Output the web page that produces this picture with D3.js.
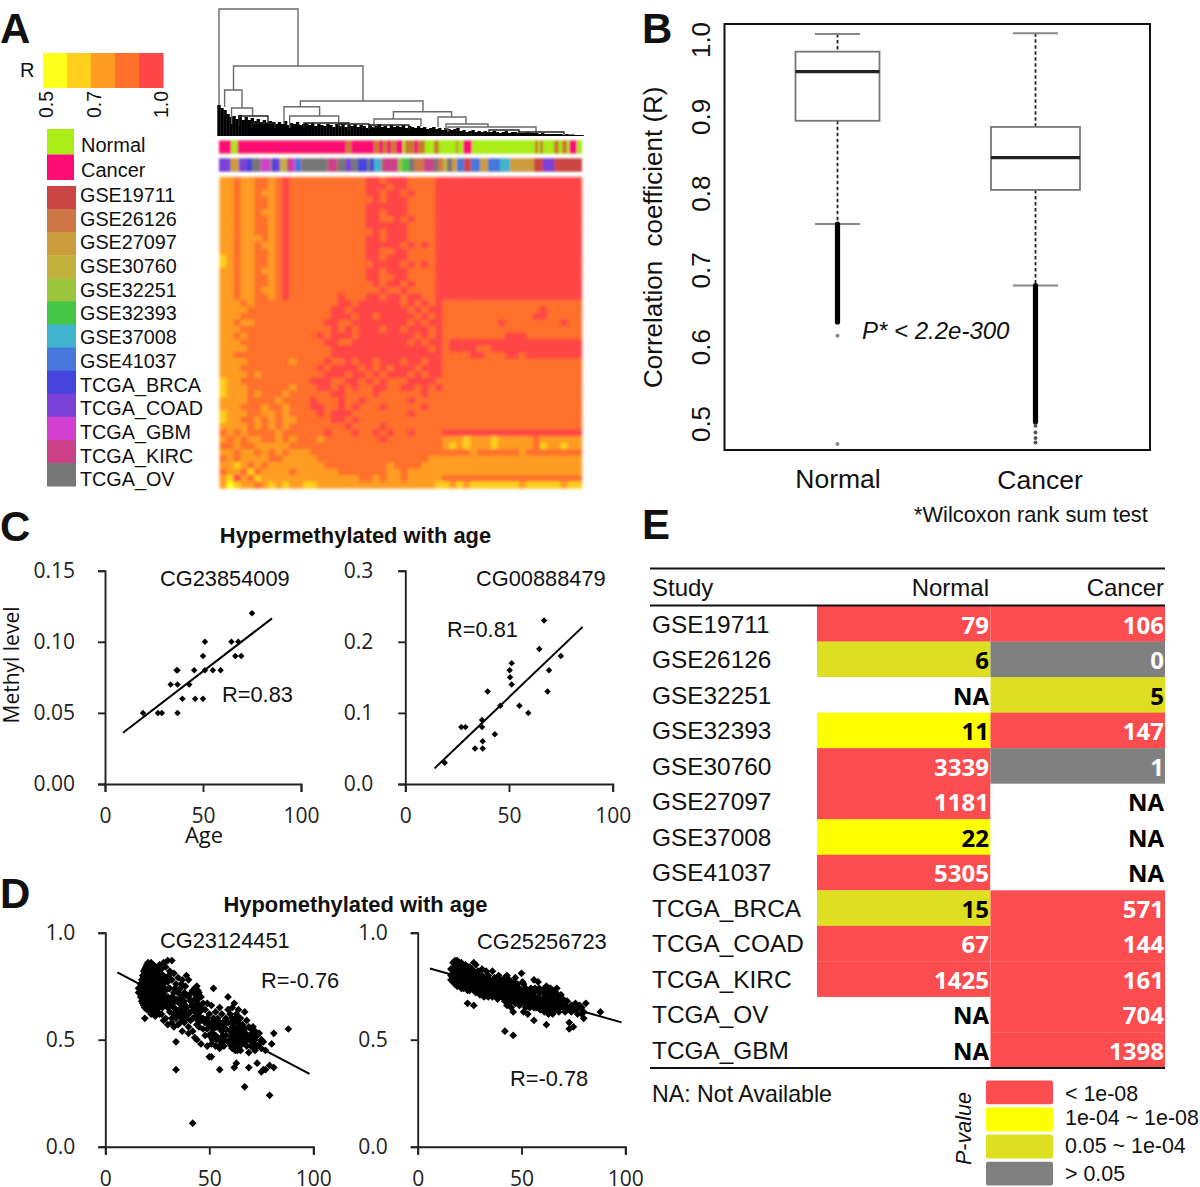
<!DOCTYPE html>
<html><head><meta charset="utf-8">
<style>html,body{margin:0;padding:0;background:#fff}svg{display:block}text{fill:#111}</style>
<script src="https://cdn.jsdelivr.net/npm/d3@7"></script>
</head><body><div id="chart"></div>
<script>
// ---------- Panel A data ----------
const rLevels = [0.5, 0.6, 0.7, 0.8, 1.0];
const rColors = ["#ffff1e", "#ffcf1c", "#ff9c20", "#ff702c", "#ff4444"];
const rLabels = ["0.5", "0.7", "1.0"];
const tissueNames = ["Normal", "Cancer"];
const tissueColors = ["#a9ec12", "#fb0a74"];
const studyNames = ["GSE19711","GSE26126","GSE27097","GSE30760","GSE32251","GSE32393","GSE37008","GSE41037","TCGA_BRCA","TCGA_COAD","TCGA_GBM","TCGA_KIRC","TCGA_OV"];
const studyColors = ["#cc4444","#cc7744","#cc9d3e","#c2b23e","#9cc43c","#44c644","#3fb4cc","#4477dd","#4444dd","#7a3fd8","#d23fcf","#cc3f88","#777777"];
const mixColor = "#c97a2a";
// [tissue code, leaf start, leaf end]; M = mixed samples
const tissueTrack = [["C",0,12.5],["N",12.5,18.5],["C",18.5,127.5],["M",127.5,132],["C",132,155],["M",155,160],["C",160,164],["M",164,168],["C",168,172],["M",172,177],["C",177,184],["M",186,195],["C",195,199],["M",199,206],["N",206,215],["M",215,220],["N",220,237],["M",237,239],["N",239,244],["C",244,253],["N",253,316],["M",316,319],["N",319,321],["M",321,324],["N",324,335],["M",335,340],["N",340,343],["M",343,348],["N",348,350],["C",350,358],["N",358,363]];
const studyTrack = [["TCGA_COAD",0,11],["GSE27097",12,20],["TCGA_COAD",20,28],["TCGA_BRCA",28,33],["TCGA_OV",33,41],["TCGA_GBM",42,51],["TCGA_BRCA",53,57],["TCGA_COAD",57,61],["GSE30760",61,68],["TCGA_KIRC",68,73],["TCGA_GBM",73,76],["GSE41037",76,82],["TCGA_OV",83,108],["TCGA_KIRC",109,118],["TCGA_OV",119,127],["TCGA_COAD",127,132],["TCGA_OV",132,139],["TCGA_BRCA",139,148],["TCGA_OV",148,151],["TCGA_BRCA",151,155],["GSE37008",155,162],["TCGA_KIRC",164,179],["GSE32251",179,183],["GSE32393",183,190],["TCGA_OV",190,195],["GSE26126",195,205],["TCGA_KIRC",205,215],["TCGA_OV",215,219],["GSE26126",219,224],["GSE30760",224,228],["TCGA_OV",228,233],["GSE27097",233,238],["GSE41037",238,245],["GSE19711",245,252],["GSE41037",252,261],["GSE27097",261,269],["GSE41037",269,281],["GSE37008",281,291],["GSE27097",291,315],["GSE19711",315,324],["TCGA_COAD",324,335],["GSE19711",335,344],["GSE19711",344,363]];
// [left leaf, right leaf, height, left child height, right child height]
const dendroMerges = [[0,79,127,31,70],[14.5,144,70,46,35],[5.6,23,46,29,28],[81.4,204,35,29.3,24.3],[65,100.6,29.3,12,20],[70.7,119.7,20,8,10],[174.4,232.6,24.3,17,19],[155,202,17,8,10],[219,247,19,9,12],[227,269,12,6,9],[229,317,9,4,4],[12.5,33.6,28,12,20],[20,49,20,10,12],[33,56,13,8,8],[120,150,12,7,7],[85,130,13,8,6],[150,190,11,6,7],[270,300,6,3,3],[300,345,4,2,2]];
const dendroLeaves = [31,28,26,22,19,20,17,21,16,19, 16,18,15,17,14,16,13,15,14,12, 14,12,15,11,13,12,14,11,12,13, 11,13,10,12,11,10,12,11,9,12, 10,12,9,11,10,12,9,11,10,8, 11,9,10,12,9,10,8,11,9,10, 9,11,8,10,9,8,10,8,9,7, 8,9,7,8,6,8,7,6,7,8, 5,6,4,5,6,4,5,4,5,4, 4,5,4,3,4,5,3,4,4,3, 3,3,4,3,3,3,2,3,2,2, 2,2,2,2,1.5,2,1.5,1.5,1,1,1];
// Heat map, colour level per cell (index into rColors)
const heatRows = [
"22322 3323433 333333333 44344 433334 44444444444444444444",
"22322 3323433 333333333 44434 433334 44444444444444444444",
"22322 3223433 333333333 44344 343334 44444444444444444444",
"22322 3323433 333333333 34344 433334 44444444444444444444",
"22322 3323433 333333333 44444 433334 44444444444444444444",
"22322 3223433 333333333 44344 433334 44444444444444444444",
"22322 3323433 333333333 44334 343334 44444444444444444444",
"22322 3323433 333333333 44444 433334 44444444444444444444",
"22322 3323433 333333333 34344 433334 44444444444444444444",
"22322 2323433 333333333 44344 433334 44444444444444444444",
"22322 3223433 333333333 44444 343434 44444444444444444444",
"22322 3323433 333333333 44334 433334 44444444444444444444",
"12322 3323433 333333333 44344 433334 44444444444444444444",
"12322 3323433 333333333 34444 343434 44444444444444444444",
"22322 3223433 333333333 44344 433334 44444444444444444444",
"22322 3323433 333333333 44334 433334 44444444444444444444",
"22322 3323433 333333333 34344 343334 44444444444444444444",
"22322 3223433 333333333 33433 433334 44444444444444444444",
"22322 3323433 333334333 44344 344334 44444444444444444444",
"22232 3333333 333334434 44444 343434 33333333333333333333",
"22223 3333333 333344344 44444 434344 33333333333333433333",
"22233 3333333 333344434 43444 443434 33333333333334433333",
"22322 3333333 333443344 44444 434344 33333333433333333433",
"22233 3333333 333343434 44344 344434 33333333333333333333",
"22323 3333333 334344434 44444 443434 33333333344433333333",
"22233 3333333 333443344 44444 434344 34444444444444444444",
"22223 3333333 333344444 44444 444434 34444334444444444444",
"22333 3333333 333344444 44444 444444 33334433344344444444",
"22223 3333323 333433434 43444 344344 33333333333333333333",
"22233 3333333 334344443 43434 443444 33333333333333333333",
"22223 2333333 333444344 34344 434344 33333333333333333333",
"12233 3333333 344433443 43433 344443 33333333333333333333",
"12223 3333323 334434343 34433 443434 33333333333333333333",
"12223 2333233 333344333 34333 333433 33333333333333333333",
"22223 3332333 343334334 33333 343333 33333333333333333333",
"22233 3233233 344334343 33433 333433 33333333333333333333",
"12223 3223233 334344433 33333 343333 33333333333333333333",
"12233 2323223 333344343 33333 333333 33333333333333333333",
"22223 2323233 333333433 33433 333333 33333333333333333333",
"32323 3332333 333433343 34343 343333 44444444444444444444",
"23232 2332323 332333333 33433 333333 22212221222223222222",
"33233 2222233 333333333 33333 333333 21212221222223122122",
"22322 3232322 233333333 33333 333333 33332333333233333333",
"32322 2233222 223333333 33333 333322 22222222222222222222",
"22123 2322222 222333333 33323 333222 22222222222222222222",
"32231 3222232 222223333 33322 322222 22222222222222222222",
"21423 1222222 222222223 32322 322222 33333333333333333333",
"20122 3212122 112222222 22222 222221 12121111111211111211"
];
// ---------- Panel B data ----------
const boxCats = ["Normal", "Cancer"];
const boxQ3 = [0.977, 0.879];
const boxMedian = [0.951, 0.839];
const boxQ1 = [0.887, 0.797];
const whiskerHigh = [1.0, 1.001];
const whiskerLow = [0.7526, 0.6725];
const outlierRuns = [[0.7526, 0.625], [0.6725, 0.495]];
const outlierDots = [[0.607, 0.466], [0.490, 0.481, 0.474, 0.468]];
const boxTicks = [0.5, 0.6, 0.7, 0.8, 0.9, 1.0];
// ---------- Panels C, D data ----------
const c1Points = [[19.4,.05],[27,.05],[29,.05],[37,.05],[33.5,.07],[37,.07],[37,.08],[36.5,.08],[43,.07],[39.5,.06],[46,.06],[50,.06],[45.5,.08],[51,.08],[55,.08],[59,.08],[50,.09],[51,.10],[64.5,.10],[68,.10],[66.5,.09],[69.5,.09],[75,.12]];
const c1Line = [[9.2,.036],[85.2,.1165]];
const c2Points = [[19,.03],[33.6,.05],[37.3,.05],[37.3,.06],[43.2,.07],[27,.08],[29,.08],[37,.08],[37,.09],[39.7,.13],[45.8,.11],[51.3,.14],[50.5,.15],[50.3,.16],[51.3,.17],[55,.11],[59.3,.10],[64.6,.19],[66.9,.23],[68.6,.13],[69.3,.16],[75,.18]];
const c2Line = [[14.1,.022],[85.5,.221]];
// age, methyl levels at that age
const d1Columns = [[16,[.74,.72]],[17,[.76,.73,.70]],[17.5,[.78,.74,.71,.68]],[18,[.80,.78,.75,.72,.69,.67]],[18.5,[.82,.79,.76,.73,.70,.66]],[19,[.83,.80,.77,.74,.71,.68,.65,.60]],[19.5,[.84,.81,.78,.75,.72,.69,.66]],[20,[.85,.82,.79,.76,.73,.70,.67,.64]],[20.5,[.86,.83,.80,.77,.74,.71,.68,.65]],[21,[.83,.80,.77,.74,.71,.68,.65]],[21.5,[.84,.81,.78,.75,.72,.69,.66,.63]],[22,[.86,.83,.80,.76,.72,.69,.66,.62]],[22.5,[.82,.79,.75,.73,.70,.67]],[23,[.85,.81,.78,.74,.71,.68,.64]],[23.5,[.83,.80,.76,.73,.69,.66]],[24,[.84,.80,.77,.73,.70,.65,.61]],[24.5,[.82,.79,.75,.72,.68,.63]],[25,[.82,.78,.75,.72,.68,.64]],[25.5,[.80,.77,.74,.70,.66]],[26,[.85,.79,.74,.70,.66,.62]],[26.5,[.81,.76,.72,.68]],[27,[.83,.78,.75,.71,.67,.62]],[27.5,[.80,.73,.69,.65]],[28,[.86,.80,.76,.72,.69,.59]],[28.5,[.77,.74,.70]],[29,[.84,.79,.73,.67,.60]],[30,[.87,.77,.70,.65,.57]],[30.5,[.80,.74,.68]],[31,[.82,.74,.68,.63]],[32,[.87,.78,.70,.66,.60,.58]],[33,[.81,.72,.65,.62,.56]],[33.5,[.74,.68]],[34,[.76,.69,.64,.60,.49,.36]],[35,[.79,.72,.68,.62,.57]],[36,[.74,.67,.63,.58]],[36.5,[.76,.70,.65,.61]],[37,[.78,.70,.66,.60,.54]],[38,[.72,.68,.63,.58]],[38.5,[.75,.66,.61]],[39,[.80,.71,.65,.60]],[40,[.78,.70,.62,.56,.53]],[41,[.68,.63,.59]],[41.5,[.72,.66]],[42,[.73,.66,.60,.54,.11]],[43,[.74,.69,.64,.51]],[43.5,[.71,.66,.61]],[44,[.75,.68,.62,.57,.50]],[44.5,[.73,.65,.59]],[45,[.72,.66,.61,.56]],[45.5,[.70,.63,.59]],[46,[.70,.65,.59,.48]],[47,[.67,.60,.55]],[48,[.64,.58,.52]],[49,[.67,.60,.55,.47]],[50,[.62,.57,.52,.42]],[51,[.66,.58,.53,.48,.42]],[51.5,[.56,.50]],[52,[.74,.60,.55,.50]],[52.5,[.58,.52]],[53,[.63,.52,.47]],[53.5,[.56,.50]],[54,[.60,.56,.51]],[55,[.65,.58,.50,.46,.36]],[55.5,[.55,.48]],[56,[.62,.54]],[56.5,[.58,.52,.49]],[57,[.57,.50,.47]],[58,[.60,.55,.52]],[59,[.70,.64,.58,.49]],[60,[.62,.54,.50]],[60.5,[.58,.52,.47]],[61,[.65,.60,.56,.51,.46]],[61.5,[.54,.49]],[62,[.67,.58,.53,.48,.37]],[62.5,[.60,.55,.50,.45]],[63,[.62,.55,.50,.39]],[63.5,[.58,.53,.48,.45]],[64,[.64,.56,.52,.46]],[64.5,[.60,.50,.47]],[65,[.60,.54,.50,.45]],[65.5,[.56,.52,.48]],[66,[.57,.52,.48]],[67,[.63,.55,.50,.28]],[67.5,[.53,.49]],[68,[.59,.52,.47]],[69,[.56,.50,.44,.37]],[70,[.55,.51,.47]],[70.5,[.53,.49]],[71,[.56,.52,.48]],[71.5,[.50,.46]],[72,[.54,.50,.45]],[72.5,[.52,.47]],[73,[.52,.47,.39]],[74,[.53,.48]],[75,[.50,.46,.35]],[76,[.49,.36]],[77,[.45,.36]],[79,[.24,.38]],[80,[.48]],[81,[.53,.37]],[88,[.55]]];
const d1Line = [[5.8,.815],[98.2,.34]];
const d2Columns = [[16,[.83,.80,.78]],[17,[.86,.83,.80,.77]],[17.5,[.84,.81,.78]],[18,[.87,.85,.82,.79,.76]],[18.5,[.83,.80,.77]],[19,[.87,.84,.81,.78,.75]],[19.5,[.85,.82,.79,.76]],[20,[.86,.85,.82,.79,.76]],[20.5,[.83,.80,.77,.75]],[21,[.86,.83,.80,.77,.74]],[21.5,[.84,.81,.78,.75]],[22,[.85,.82,.79,.76,.74]],[22.5,[.83,.80,.77,.75]],[23,[.85,.84,.81,.78,.75]],[23.5,[.82,.79,.76,.74]],[24,[.84,.81,.78,.75,.73,.67]],[24.5,[.83,.80,.77,.74]],[25,[.84,.82,.79,.76,.73]],[25.5,[.80,.77,.75]],[26,[.83,.80,.77,.74]],[26.5,[.81,.78,.75]],[27,[.86,.82,.79,.76,.73,.66]],[27.5,[.80,.77,.74]],[28,[.85,.81,.78,.75,.72]],[28.5,[.79,.76,.73]],[29,[.82,.79,.76,.73]],[30,[.80,.77,.74,.71]],[30.5,[.78,.75,.72]],[31,[.83,.80,.76,.72]],[32,[.79,.76,.73,.70]],[32.5,[.77,.74,.71]],[33,[.82,.78,.75,.72]],[34,[.80,.77,.73,.70]],[34.5,[.78,.75,.72]],[35,[.78,.75,.72]],[36,[.82,.76,.73,.70]],[36.5,[.78,.74,.71]],[37,[.79,.75,.71]],[38,[.77,.73,.70]],[38.5,[.75,.72,.69]],[39,[.80,.75,.71]],[40,[.78,.74,.71]],[40.5,[.76,.73,.70]],[41,[.76,.73,.70]],[42,[.79,.75,.71,.68,.54]],[42.5,[.77,.73,.69]],[43,[.80,.76,.72,.66]],[44,[.78,.74,.71,.67]],[44.5,[.76,.72,.69]],[45,[.77,.73,.70,.65]],[46,[.75,.72,.68,.52,.63]],[46.5,[.77,.73,.70]],[47,[.79,.74,.70,.67]],[48,[.76,.72,.68]],[48.5,[.74,.70]],[49,[.74,.70,.66]],[50,[.81,.73,.69]],[50.5,[.77,.71,.68]],[51,[.76,.71,.67,.63]],[52,[.74,.69,.65]],[52.5,[.72,.67]],[53,[.72,.68,.62]],[54,[.72,.68,.65]],[54.5,[.74,.70,.66]],[55,[.70,.66]],[56,[.78,.72,.68,.65,.59]],[56.5,[.74,.70,.67]],[57,[.73,.69,.65]],[58,[.77,.70,.66]],[58.5,[.74,.69,.66]],[59,[.72,.68,.64]],[60,[.73,.69,.65]],[60.5,[.72,.68,.66]],[61,[.74,.70,.66,.63]],[61.5,[.72,.68,.65]],[62,[.75,.71,.67,.63,.57]],[62.5,[.73,.69,.65]],[63,[.72,.68,.65,.62]],[63.5,[.74,.70,.66,.64]],[64,[.74,.70,.66]],[64.5,[.72,.68,.65]],[65,[.73,.69,.65,.62]],[65.5,[.71,.67,.64]],[66,[.71,.67,.64]],[66.5,[.72,.66]],[67,[.74,.68,.65]],[68,[.70,.66,.63]],[68.5,[.69,.65]],[69,[.71,.67]],[70,[.69,.65]],[71,[.66,.63]],[72,[.68,.64]],[73,[.65,.58,.55]],[74,[.66,.63]],[75,[.64,.56]],[76,[.67,.64]],[77,[.65,.62]],[78,[.66]],[79,[.65,.62]],[80,[.63,.60]],[81,[.67]],[88,[.63]]];
const d2Line = [[5.9,.833],[98.2,.581]];
// ---------- Panel E data ----------
const tableStudies = ["GSE19711","GSE26126","GSE32251","GSE32393","GSE30760","GSE27097","GSE37008","GSE41037","TCGA_BRCA","TCGA_COAD","TCGA_KIRC","TCGA_OV","TCGA_GBM"];
const normalCounts = ["79","6","NA","11","3339","1181","22","5305","15","67","1425","NA","NA"];
const cancerCounts = ["106","0","5","147","1","NA","NA","NA","571","144","161","704","1398"];
const normalClass = ["r","o","n","y","r","r","y","r","o","r","r","n","n"];
const cancerClass = ["r","g","o","r","g","n","n","n","r","r","r","r","r"];
const classColors = {r:"#fb4d50", y:"#ffff00", o:"#dfdf22", g:"#808080", n:"#ffffff"};
const classInk = {r:"#fff", y:"#000", o:"#000", g:"#fff", n:"#000"};
const pKeys = ["r","y","o","g"];
const pLabels = ["< 1e-08","1e-04 ~ 1e-08","0.05 ~ 1e-04","> 0.05"];

// ---------- drawing ----------
const HELV = "'Liberation Sans', Arial, sans-serif";
const OPEN = "'Open Sans', sans-serif";
const svg = d3.select("#chart").append("svg").attr("width",1200).attr("height",1187);
const defs = svg.append("defs");
defs.append("filter").attr("id","soft").attr("x","-2%").attr("y","-2%").attr("width","104%").attr("height","104%")
  .append("feGaussianBlur").attr("stdDeviation",0.9);
defs.append("filter").attr("id","softHeat").attr("x","-2%").attr("y","-2%").attr("width","104%").attr("height","104%")
  .append("feGaussianBlur").attr("stdDeviation",1.4);
defs.append("filter").attr("id","soft2").append("feGaussianBlur").attr("stdDeviation",0.45);

function txt(x,y,s,o={}){
  const t = svg.append("text").attr("x",x).attr("y",y).text(s)
    .attr("font-family",o.family||HELV).attr("font-size",o.size||20)
    .attr("text-anchor",o.anchor||"start").attr("font-weight",o.weight||"normal")
    .attr("font-style",o.style||"normal").attr("xml:space","preserve").style("white-space","pre");
  if(o.rotate!==undefined) t.attr("transform",`rotate(${o.rotate} ${x} ${y})`);
  if(o.fill) t.style("fill",o.fill);
  return t;
}
// panel letters
[["A",0,43],["B",642,43],["C",0,541],["D",0,908],["E",642,539]].forEach(d=>txt(d[1],d[2],d[0],{size:42,weight:"bold"}));

// --- Panel A: colour key
const keyX = d3.scaleBand().domain(rLevels).range([43,163]);
svg.append("g").selectAll("rect").data(rLevels).join("rect")
  .attr("x",d=>keyX(d)).attr("y",53).attr("width",keyX.bandwidth()+.5).attr("height",35)
  .attr("fill",(d,i)=>rColors[i]).attr("filter","url(#soft2)");
txt(20,77,"R",{size:20});
rLabels.forEach((s,k)=>txt([53,101,168][k],118,s,{size:19.5,rotate:-90}));
const tissueY = d3.scaleBand().domain(tissueNames).range([129,180]);
svg.append("g").selectAll("rect").data(tissueNames).join("rect")
  .attr("x",47).attr("width",27).attr("y",d=>tissueY(d)).attr("height",tissueY.bandwidth())
  .attr("fill",(d,i)=>tissueColors[i]).attr("filter","url(#soft2)");
tissueNames.forEach(d=>txt(81,tissueY(d)+22.5,d,{size:20}));
const studyY = d3.scaleBand().domain(studyNames).range([186,486]);
svg.append("g").selectAll("rect").data(studyNames).join("rect")
  .attr("x",47).attr("width",29).attr("y",d=>studyY(d)).attr("height",studyY.bandwidth()+.5)
  .attr("fill",(d,i)=>studyColors[i]).attr("filter","url(#soft2)");
const studyLabelY = d3.scaleBand().domain(studyNames).range([183.5,491.5]);
studyNames.forEach(d=>txt(80,studyLabelY(d)+18.5,d,{size:19.8}));

// dendrogram
const leafX = d3.scaleLinear().domain([0,363]).range([219,582]);
const dendroY = d3.scaleLinear().domain([0,127]).range([136,9]);
const leafIdx = d3.scaleLinear().domain([0,dendroLeaves.length-1]).range([0,363]);
svg.append("g").selectAll("line").data(dendroLeaves).join("line")
  .attr("x1",(d,i)=>leafX(leafIdx(i))).attr("x2",(d,i)=>leafX(leafIdx(i)))
  .attr("y1",dendroY(0)).attr("y2",d=>dendroY(d)).attr("stroke","#000").attr("stroke-width",3.4);
svg.append("g").selectAll("path").data(dendroMerges).join("path")
  .attr("d",d=>`M${leafX(d[0])},${dendroY(d[3])}V${dendroY(d[2])}H${leafX(d[1])}V${dendroY(d[4])}`)
  .attr("fill","none").attr("stroke",(d,i)=>i<12?"#6a6a6a":"#222").attr("stroke-width",1.4);

// tracks
const trackG = svg.append("g").attr("filter","url(#soft)");
const tissueFill = {C:tissueColors[1],N:tissueColors[0],M:mixColor};
trackG.append("rect").attr("x",leafX(0)).attr("width",363).attr("y",140.5).attr("height",13).attr("fill",tissueColors[0]);
trackG.selectAll("rect.t").data(tissueTrack).join("rect").attr("class","t")
  .attr("x",d=>leafX(d[1])).attr("width",d=>leafX(d[2])-leafX(d[1])).attr("y",140.5).attr("height",13)
  .attr("fill",d=>tissueFill[d[0]]);
const studyColor = d3.scaleOrdinal(studyNames,studyColors);
trackG.append("rect").attr("x",leafX(0)).attr("width",363).attr("y",158.5).attr("height",13).attr("fill","#a07a70");
trackG.selectAll("rect.s").data(studyTrack).join("rect").attr("class","s")
  .attr("x",d=>leafX(d[1])).attr("width",d=>leafX(d[2])-leafX(d[1])).attr("y",158.5).attr("height",13)
  .attr("fill",d=>studyColor(d[0]));

// heat map
const cells = heatRows.map(r=>r.replace(/ /g,"").split("").map(Number));
const hx = d3.scaleBand().domain(d3.range(cells[0].length)).range([219.5,581.5]);
const hy = d3.scaleBand().domain(d3.range(cells.length)).range([177,488]);
const heatG = svg.append("g").attr("filter","url(#softHeat)");
cells.forEach((row,r)=>{
  heatG.append("g").selectAll("rect").data(row).join("rect")
    .attr("x",(d,c)=>hx(c)).attr("y",hy(r)).attr("width",hx.bandwidth()+.6).attr("height",hy.bandwidth()+.6)
    .attr("fill",d=>rColors[d]);
});

// --- Panel B: box plot
const by = d3.scaleLinear().domain([0.5,1.0]).range([418,34]);
const bCenter = d3.scaleOrdinal(boxCats,[837.5,1035.5]);
const bHalf = d3.scaleOrdinal(boxCats,[42,44.5]);
const capHalf = 22.5;
const bG = svg.append("g");
boxCats.forEach((c,i)=>{
  const x=bCenter(c), h=bHalf(c);
  bG.append("line").attr("x1",x).attr("x2",x).attr("y1",by(whiskerHigh[i])).attr("y2",by(boxQ3[i])).attr("stroke","#222").attr("stroke-width",1.8).attr("stroke-dasharray","3.5 2.5");
  bG.append("line").attr("x1",x).attr("x2",x).attr("y1",by(boxQ1[i])).attr("y2",by(whiskerLow[i])).attr("stroke","#222").attr("stroke-width",1.8).attr("stroke-dasharray","3.5 2.5");
  [whiskerHigh[i],whiskerLow[i]].forEach(v=>bG.append("line").attr("x1",x-capHalf).attr("x2",x+capHalf).attr("y1",by(v)).attr("y2",by(v)).attr("stroke","#888").attr("stroke-width",1.8));
  bG.append("rect").attr("x",x-h).attr("width",2*h).attr("y",by(boxQ3[i])).attr("height",by(boxQ1[i])-by(boxQ3[i])).attr("fill","#fff").attr("stroke","#777").attr("stroke-width",1.8);
  bG.append("line").attr("x1",x-h).attr("x2",x+h).attr("y1",by(boxMedian[i])).attr("y2",by(boxMedian[i])).attr("stroke","#222").attr("stroke-width",3.4);
  bG.append("line").attr("x1",x).attr("x2",x).attr("y1",by(outlierRuns[i][0])).attr("y2",by(outlierRuns[i][1])).attr("stroke","#000").attr("stroke-width",5.2).attr("stroke-linecap","round");
  bG.selectAll(null).data(outlierDots[i]).join("circle").attr("cx",x).attr("cy",d=>by(d)).attr("r",2).attr("fill",i?"#555":"#888");
});
svg.append("rect").attr("x",724.5).attr("y",24).attr("width",425.5).attr("height",426).attr("fill","none").attr("stroke","#111").attr("stroke-width",2);
boxTicks.forEach(v=>txt(710,by(v)+6,d3.format(".1f")(v),{size:26,anchor:"middle",rotate:-90}));
txt(662,388,"Correlation  coefficient (R)",{size:26,rotate:-90});
txt(838,488,"Normal",{size:26.5,anchor:"middle"});
txt(1040,489,"Cancer",{size:26.5,anchor:"middle"});
txt(862,339,"P* < 2.2e-300",{size:24,style:"italic"});
txt(914,522,"*Wilcoxon rank sum test",{size:21.8});

// --- Panels C, D: scatter
function scatter(o){
  const x=d3.scaleLinear().domain([0,100]).range(o.xr), y=d3.scaleLinear().domain([0,o.ymax]).range(o.yr);
  const g=svg.append("g");
  const ax=g.append("g").attr("transform",`translate(0,${o.yr[0]})`)
    .call(d3.axisBottom(x).tickValues([0,50,100]).tickFormat(d3.format("d")).tickSize(8).tickPadding(o.xpad||16).tickSizeOuter(8));
  const ay=g.append("g").attr("transform",`translate(${o.xr[0]},0)`)
    .call(d3.axisLeft(y).tickValues(o.yt).tickFormat(d3.format(o.fmt)).tickSize(7).tickPadding(o.ypad).tickSizeOuter(7));
  [ax,ay].forEach(a=>{a.selectAll("path,line").attr("stroke","#222").attr("stroke-width",1.9);
    a.selectAll("text").attr("font-family",OPEN).attr("font-size",21).style("fill","#222");});
  g.append("path").attr("d",d3.line().x(d=>x(d[0])).y(d=>y(d[1]))(o.line)).attr("stroke","#000").attr("stroke-width",2).attr("fill","none");
  g.append("g").selectAll("path").data(o.pts).join("path")
    .attr("d",d3.symbol(d3.symbolSquare,o.ms)).attr("fill","#000")
    .attr("transform",d=>`translate(${x(d[0])},${y(d[1])}) rotate(45)`);
}
const flatten = cols => cols.flatMap(([a,vals])=>vals.map(v=>[a,v]));
scatter({xr:[105,301],yr:[784,570.7],ymax:.15,yt:[0,.05,.10,.15],fmt:".2f",ypad:23,pts:c1Points,line:c1Line,ms:21});
scatter({xr:[405.3,612.7],yr:[784,570.7],ymax:.3,yt:[0,.1,.2,.3],fmt:".1f",ypad:25,pts:c2Points,line:c2Line,ms:21});
scatter({xr:[105.3,313.3],yr:[1146.7,932.7],ymax:1,yt:[0,.5,1],fmt:".1f",ypad:23,xpad:16,pts:flatten(d1Columns),line:d1Line,ms:30});
scatter({xr:[417.7,625.3],yr:[1146.7,932.7],ymax:1,yt:[0,.5,1],fmt:".1f",ypad:23,xpad:16,pts:flatten(d2Columns),line:d2Line,ms:30});
txt(355.5,543,"Hypermethylated with age",{size:21.9,weight:"bold",anchor:"middle"});
txt(355.5,912,"Hypomethylated with age",{size:21.9,weight:"bold",anchor:"middle"});
txt(19,665,"Methyl level",{size:21,family:OPEN,rotate:-90,anchor:"middle"});
txt(204,843,"Age",{size:22,family:OPEN,anchor:"middle"});
txt(160,586,"CG23854009",{size:21.8});
txt(222,702,"R=0.83",{size:21.8});
txt(476,586,"CG00888479",{size:21.8});
txt(447,637,"R=0.81",{size:21.8});
txt(160,948,"CG23124451",{size:21.8});
txt(261,988,"R=-0.76",{size:21.8});
txt(477,949,"CG25256723",{size:21.8});
txt(510,1086,"R=-0.78",{size:21.8});

// --- Panel E: table
const rowY = d3.scaleBand().domain(tableStudies).range([606,1068]);
const colN=[817,990.5], colC=[990.5,1165];
[[normalClass,colN],[cancerClass,colC]].forEach(([cls,col])=>{
  svg.append("g").selectAll("rect").data(tableStudies).join("rect")
    .attr("x",col[0]).attr("width",col[1]-col[0]).attr("y",d=>rowY(d)).attr("height",rowY.bandwidth()+.3)
    .attr("fill",(d,i)=>classColors[cls[i]]);
});
tableStudies.forEach((s,i)=>{
  const y=rowY(s)+26.5;
  txt(652,y,s,{size:24.4});
  txt(989,y+1,normalCounts[i],{size:24,weight:"bold",family:OPEN,anchor:"end",fill:classInk[normalClass[i]]});
  txt(1164,y+1,cancerCounts[i],{size:24,weight:"bold",family:OPEN,anchor:"end",fill:classInk[cancerClass[i]]});
});
[[568.5],[605.5],[1068]].forEach(([y])=>svg.append("line").attr("x1",650).attr("x2",1165).attr("y1",y).attr("y2",y).attr("stroke","#111").attr("stroke-width",2));
txt(652,596,"Study",{size:24});
txt(989,596,"Normal",{size:24,anchor:"end"});
txt(1164,596,"Cancer",{size:24,anchor:"end"});
txt(652,1102,"NA: Not Available",{size:23.2});
const pY = d3.scaleBand().domain(pKeys).range([1080.5,1185.5]).paddingInner(.12);
svg.append("g").selectAll("rect").data(pKeys).join("rect")
  .attr("x",986).attr("width",67).attr("y",d=>pY(d)).attr("height",pY.bandwidth()).attr("rx",2)
  .attr("fill",d=>classColors[d]);
pKeys.forEach((k,i)=>txt(1065,[1101,1125,1153,1181][i],pLabels[i],{size:21.4}));
txt(971,1165,"P-value",{size:21.5,style:"italic",rotate:-90});
</script></body></html>
